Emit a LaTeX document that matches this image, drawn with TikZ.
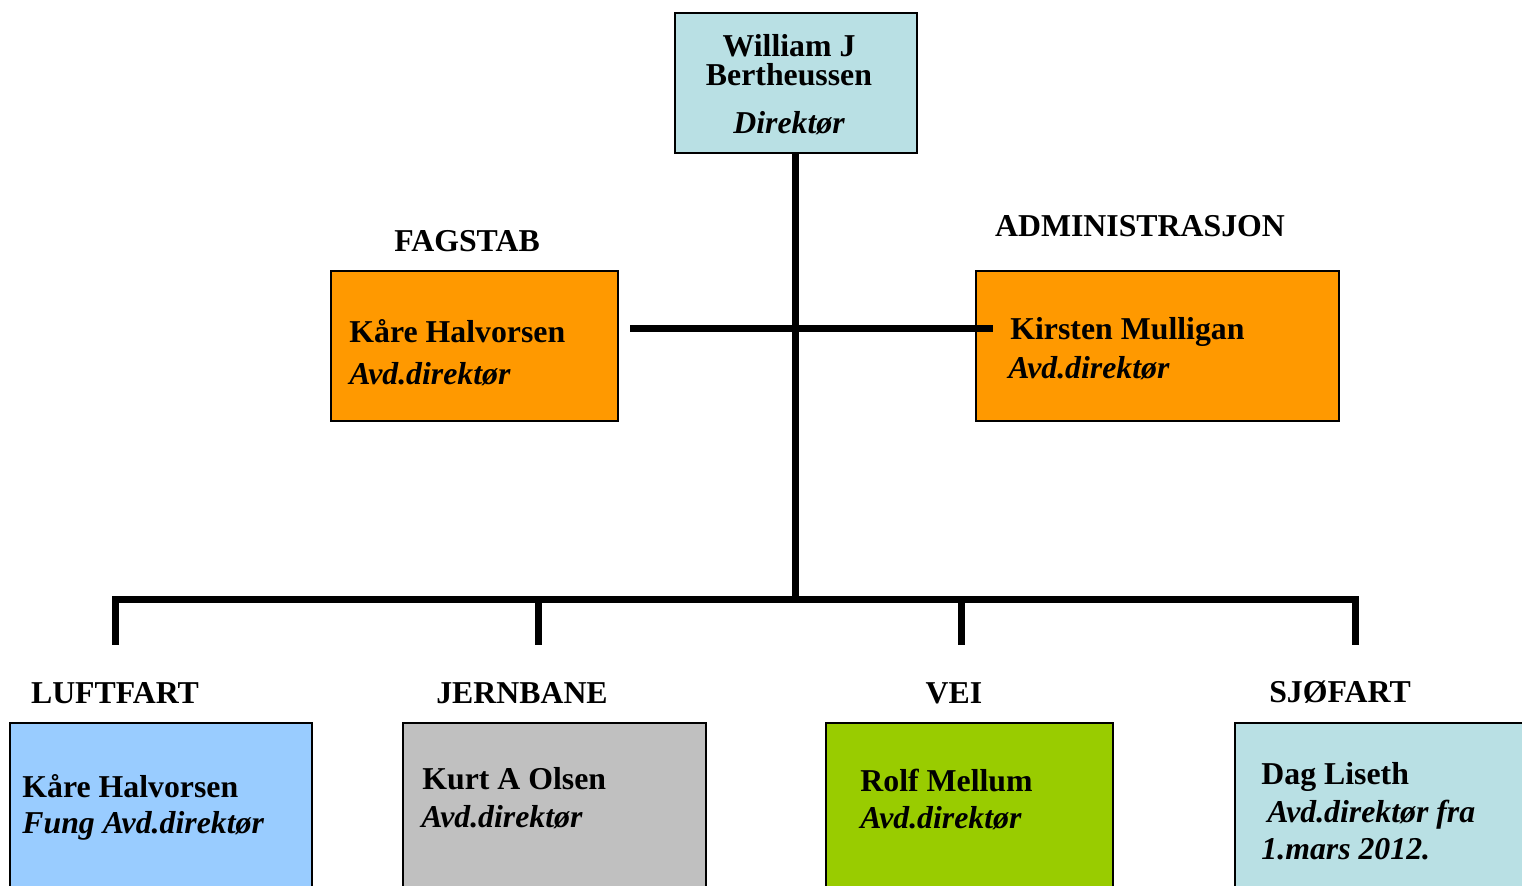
\documentclass[tikz,border=0pt]{standalone}
\usepackage{fontspec}
\setmainfont{Liberation Serif}
\definecolor{BoxTeal}{RGB}{185,224,228}
\definecolor{BoxOrange}{RGB}{255,153,0}
\definecolor{BoxBlue}{RGB}{153,204,255}
\definecolor{BoxGrey}{RGB}{192,192,192}
\definecolor{BoxGreen}{RGB}{153,204,0}

\begin{document}
\begin{tikzpicture}[x=0.5pt, y=-0.5pt,
        unitbox/.style={draw, line width=1pt, inner sep=0pt, anchor=north west},
        personname/.style={font=\fontsize{15.9}{18}\selectfont\bfseries, inner sep=0pt, anchor=base west},
        roletext/.style={font=\fontsize{15.9}{18}\selectfont\bfseries\itshape, inner sep=0pt, anchor=base west},
        deptlabel/.style={font=\fontsize{15.9}{18}\selectfont\bfseries, inner sep=0pt, anchor=base},
        link/.style={line width=3.5pt}
    ]
        \useasboundingbox (0,0) rectangle (1522,886);
        \clip (0,0) rectangle (1522,886);
        % Director
        \node[unitbox, fill=BoxTeal, minimum width=121pt, minimum height=70pt] (dir) at (674,12) {};
        \node[deptlabel] (dirname1) at (789,57) {William J};
        \node[deptlabel] (dirname2) at (789,86) {Bertheussen};
        \node[deptlabel, font=\fontsize{15.9}{18}\selectfont\bfseries\itshape] (dirrole) at (789,134) {Direktør};
        % Staff units
        \node[deptlabel] (fagstab) at (467,252) {FAGSTAB};
        \node[deptlabel] (admin) at (1140,237) {ADMINISTRASJON};
        \node[unitbox, fill=BoxOrange, minimum width=143.5pt, minimum height=75pt] (fagbox) at (330,270) {};
        \node[unitbox, fill=BoxOrange, minimum width=181.5pt, minimum height=75pt] (adminbox) at (975,270) {};
        \node[personname] (fagname) at (349,343) {Kåre Halvorsen};
        \node[roletext] (fagrole) at (349,385) {Avd.direktør};
        \node[personname] (adminname) at (1010,340) {Kirsten Mulligan};
        \node[roletext] (adminrole) at (1008,379) {Avd.direktør};
        % Departments
        \foreach \d/\x/\w/\c in {luft/9/302/BoxBlue, jern/402/303/BoxGrey, vei/825/287/BoxGreen, sjo/1234/300/BoxTeal} {
            \node[unitbox, fill=\c, minimum width=\w*0.5pt, minimum height=100pt] (\d box) at (\x,722) {};
        }
        \node[deptlabel] (luft) at (115,704) {LUFTFART};
        \node[deptlabel] (jern) at (522,704) {JERNBANE};
        \node[deptlabel] (vei) at (954,704) {VEI};
        \node[deptlabel] (sjo) at (1340,703) {SJØFART};
        \node[personname] (luftname) at (22,798) {Kåre Halvorsen};
        \node[roletext] (luftrole) at (22,834) {Fung Avd.direktør};
        \node[personname] (jernname) at (422,790) {Kurt A Olsen};
        \node[roletext] (jernrole) at (421,828) {Avd.direktør};
        \node[personname] (veiname) at (860,792) {Rolf Mellum};
        \node[roletext] (veirole) at (860,829) {Avd.direktør};
        \node[personname] (sjoname) at (1261,785) {Dag Liseth};
        \node[roletext] (sjorole) at (1267,823) {Avd.direktør fra};
        \node[roletext] (sjodate) at (1261,860) {1.mars 2012.};
        % Connectors
        \coordinate (fagend) at (630,329);
        \coordinate (adminend) at (993,329);
        \coordinate (hub) at (795,600);
        \foreach \n/\x in {1/115, 2/538, 3/961, 4/1355} {
            \coordinate (bus\n) at (\x,600);
            \coordinate (drop\n) at (\x,645);
        }
        \draw[link] (dir.south -| hub) -- (hub);
        \draw[link] (fagend) -- (adminend);
        \draw[link] (drop1) -- (bus1) -- (bus4) -- (drop4);
        \draw[link] (bus2) -- (drop2);
        \draw[link] (bus3) -- (drop3);
    \end{tikzpicture}
\end{document}
